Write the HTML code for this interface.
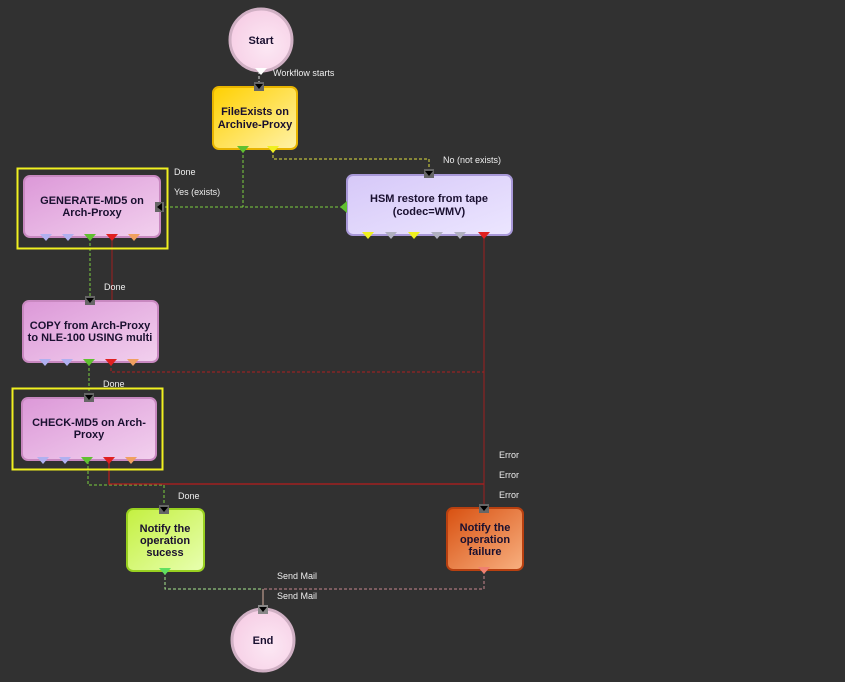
<!DOCTYPE html>
<html><head><meta charset="utf-8"><style>
html,body{margin:0;padding:0;background:#313131;}
svg{display:block;}
text{font-family:"Liberation Sans",sans-serif;}
</style></head><body>
<svg width="845" height="682" viewBox="0 0 845 682" xmlns="http://www.w3.org/2000/svg">
<defs>
<linearGradient id="gy" x1="0" y1="0" x2="1" y2="1"><stop offset="0" stop-color="#ffd000"/><stop offset="1" stop-color="#fff2a8"/></linearGradient>
<linearGradient id="gp" x1="0" y1="0" x2="1" y2="1"><stop offset="0" stop-color="#dc98d8"/><stop offset="1" stop-color="#f2d0ee"/></linearGradient>
<linearGradient id="gl" x1="0" y1="0" x2="1" y2="1"><stop offset="0" stop-color="#d6c8f8"/><stop offset="1" stop-color="#ece6ff"/></linearGradient>
<linearGradient id="gg" x1="0" y1="0" x2="1" y2="1"><stop offset="0" stop-color="#c4f040"/><stop offset="1" stop-color="#e8ffb0"/></linearGradient>
<linearGradient id="go" x1="0" y1="0" x2="1" y2="1"><stop offset="0" stop-color="#d85010"/><stop offset="1" stop-color="#f8b080"/></linearGradient>
<radialGradient id="gc" cx="0.6" cy="0.6" r="0.7"><stop offset="0" stop-color="#fce8f4"/><stop offset="1" stop-color="#f6cce4"/></radialGradient>
</defs>
<rect width="845" height="682" fill="#313131"/>

<!-- connectors -->
<g fill="none" stroke-width="1">
<path d="M259 71 V87" stroke="#ddd" stroke-dasharray="3,2"/>
<path d="M243 150 V207 M160 207 H346" stroke="#7cd040" stroke-dasharray="3,2"/>
<path d="M273 150 V159 H429 V174" stroke="#e0e040" stroke-dasharray="3,2"/>
<path d="M90 238 V300" stroke="#7cd040" stroke-dasharray="3,2"/>
<path d="M112 238 V300" stroke="#a02020"/>
<path d="M89 363 V398" stroke="#7cd040" stroke-dasharray="3,2"/>
<path d="M111 363 V372 H484" stroke="#b02020" stroke-dasharray="3,2"/>
<path d="M484 236 V508" stroke="#a02020"/>
<path d="M88 461 V485 H164 V509" stroke="#7cd040" stroke-dasharray="3,2"/>
<path d="M109 461 V484 H484" stroke="#a02020" stroke-width="1.5"/>
<path d="M165 572 V589 H263" stroke="#a8e890" stroke-dasharray="3,2"/>
<path d="M484 571 V589 H263" stroke="#c88890" stroke-dasharray="3,2"/>
<path d="M263 589 V609" stroke="#d8b0a0"/>
</g>

<!-- selection rects -->
<rect x="17.5" y="168.5" width="150" height="80" fill="none" stroke="#f0f020" stroke-width="2"/>
<rect x="12.5" y="388.5" width="150" height="81" fill="none" stroke="#f0f020" stroke-width="2"/>

<!-- nodes -->
<circle cx="261" cy="40" r="31" fill="url(#gc)" stroke="#d0b0c4" stroke-width="3"/>
<circle cx="263" cy="640" r="31" fill="url(#gc)" stroke="#d0b0c4" stroke-width="3"/>
<rect x="213" y="87" width="84" height="62" rx="6" fill="url(#gy)" stroke="#e8b400" stroke-width="2"/>
<rect x="24" y="176" width="136" height="61" rx="6" fill="url(#gp)" stroke="#c888c0" stroke-width="2"/>
<rect x="347" y="175" width="165" height="60" rx="6" fill="url(#gl)" stroke="#a898d8" stroke-width="2"/>
<rect x="23" y="301" width="135" height="61" rx="6" fill="url(#gp)" stroke="#c888c0" stroke-width="2"/>
<rect x="22" y="398" width="134" height="62" rx="6" fill="url(#gp)" stroke="#c888c0" stroke-width="2"/>
<rect x="127" y="509" width="77" height="62" rx="6" fill="url(#gg)" stroke="#98d020" stroke-width="2"/>
<rect x="447" y="508" width="76" height="62" rx="6" fill="url(#go)" stroke="#b84010" stroke-width="2"/>

<!-- input markers -->
<g fill="#000">
<rect x="254" y="82" width="10" height="9" fill="#666"/><path d="M255 84 h8 l-4 5z"/>
<rect x="424" y="169" width="10" height="9" fill="#666"/><path d="M425 171 h8 l-4 5z"/>
<rect x="155" y="202" width="9" height="10" fill="#666"/><path d="M162 203 v8 l-5 -4z"/>
<rect x="85" y="296" width="10" height="9" fill="#666"/><path d="M86 298 h8 l-4 5z"/>
<rect x="84" y="393" width="10" height="9" fill="#666"/><path d="M85 395 h8 l-4 5z"/>
<rect x="159" y="505" width="10" height="9" fill="#666"/><path d="M160 507 h8 l-4 5z"/>
<rect x="479" y="504" width="10" height="9" fill="#666"/><path d="M480 506 h8 l-4 5z"/>
<rect x="258" y="605" width="10" height="9" fill="#888"/><path d="M259 607 h8 l-4 5z"/>
</g>

<!-- output ports -->
<g>
<path d="M255 68 h12 l-6 7z" fill="#fff"/>
<path d="M237 146 h12 l-6 7z" fill="#60c030"/>
<path d="M267 146 h12 l-6 7z" fill="#f0f020"/>
<path d="M340 207 l7 -6 v12z" fill="#60c030"/>
<path d="M40 234 h12 l-6 7z" fill="#b0b0f0"/><path d="M62 234 h12 l-6 7z" fill="#b0b0f0"/><path d="M84 234 h12 l-6 7z" fill="#60c030"/><path d="M106 234 h12 l-6 7z" fill="#e02020"/><path d="M128 234 h12 l-6 7z" fill="#f0a060"/>
<path d="M39 359 h12 l-6 7z" fill="#b0b0f0"/><path d="M61 359 h12 l-6 7z" fill="#b0b0f0"/><path d="M83 359 h12 l-6 7z" fill="#60c030"/><path d="M105 359 h12 l-6 7z" fill="#e02020"/><path d="M127 359 h12 l-6 7z" fill="#f0a060"/>
<path d="M37 457 h12 l-6 7z" fill="#b0b0f0"/><path d="M59 457 h12 l-6 7z" fill="#b0b0f0"/><path d="M81 457 h12 l-6 7z" fill="#60c030"/><path d="M103 457 h12 l-6 7z" fill="#e02020"/><path d="M125 457 h12 l-6 7z" fill="#f0a060"/>
<path d="M362 232 h12 l-6 7z" fill="#f0f020"/><path d="M385 232 h12 l-6 7z" fill="#b0b0c0"/><path d="M408 232 h12 l-6 7z" fill="#f0f020"/><path d="M431 232 h12 l-6 7z" fill="#b0b0c0"/><path d="M454 232 h12 l-6 7z" fill="#b0b0c0"/><path d="M478 232 h12 l-6 7z" fill="#e02020"/>
<path d="M159 568 h12 l-6 7z" fill="#60e060"/>
<path d="M478 567 h12 l-6 7z" fill="#f08070"/>
</g>

<!-- node text -->
<g font-weight="bold" font-size="11" fill="#1a1030" text-anchor="middle">
<text x="261" y="44">Start</text>
<text x="263" y="644">End</text>
<text x="255" y="115">FileExists on</text><text x="255" y="128">Archive-Proxy</text>
<text x="92" y="204">GENERATE-MD5 on</text><text x="92" y="216">Arch-Proxy</text>
<text x="429" y="202">HSM restore from tape</text><text x="429" y="215">(codec=WMV)</text>
<text x="90" y="329">COPY from Arch-Proxy</text><text x="90" y="341">to NLE-100 USING multi</text>
<text x="89" y="426">CHECK-MD5 on Arch-</text><text x="89" y="438">Proxy</text>
<text x="165" y="532">Notify the</text><text x="165" y="544">operation</text><text x="165" y="556">sucess</text>
<text x="485" y="531">Notify the</text><text x="485" y="543">operation</text><text x="485" y="555">failure</text>
</g>

<!-- connector labels -->
<g font-size="9" fill="#eee">
<text x="273" y="76">Workflow starts</text>
<text x="443" y="163">No (not exists)</text>
<text x="174" y="175">Done</text>
<text x="174" y="195">Yes (exists)</text>
<text x="104" y="290">Done</text>
<text x="103" y="387">Done</text>
<text x="499" y="458">Error</text>
<text x="499" y="478">Error</text>
<text x="499" y="498">Error</text>
<text x="178" y="499">Done</text>
<text x="277" y="579">Send Mail</text>
<text x="277" y="599">Send Mail</text>
</g>
</svg>
</body></html>
